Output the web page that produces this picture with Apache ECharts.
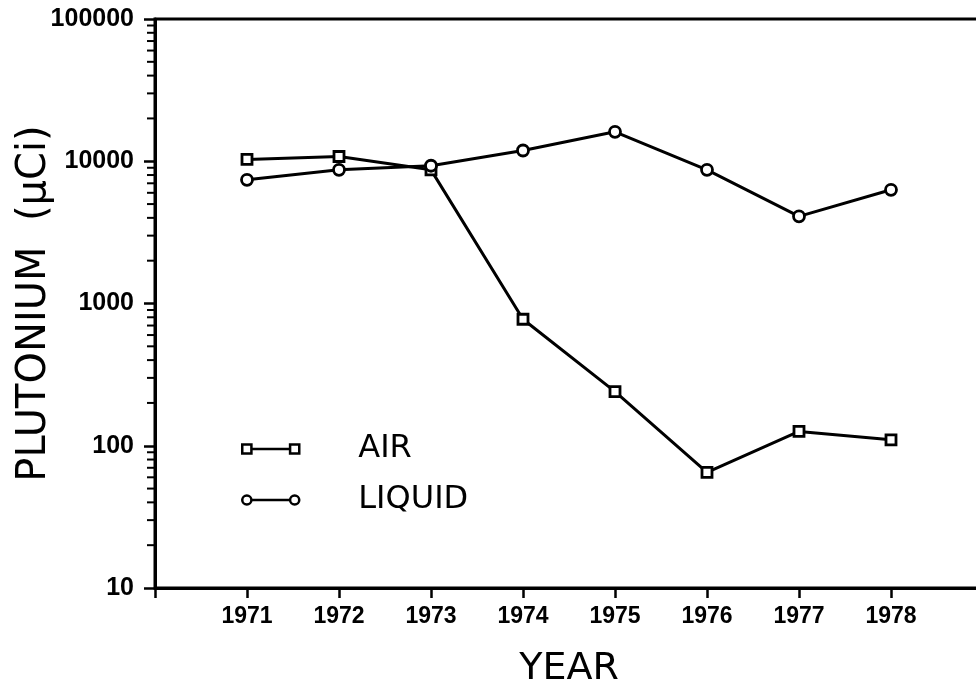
<!DOCTYPE html>
<html><head><meta charset="utf-8">
<script src="https://cdn.jsdelivr.net/npm/echarts@6/dist/echarts.min.js"></script>
<style>html,body{margin:0;padding:0;background:#fff}#c{width:976px;height:687px}</style>
</head><body><div id="c"></div>
<script>
const years = [1971, 1972, 1973, 1974, 1975, 1976, 1977, 1978];
const airValues = [10300, 10800, 8700, 775, 240, 65, 126, 110];
const liquidValues = [7400, 8700, 9300, 11900, 16100, 8700, 4100, 6300];
const yTickLabels = [10, 100, 1000, 10000, 100000];
const minorTickValues = [];
for (const d of [10, 100, 1000, 10000]) for (let k = 2; k <= 9; k++) minorTickValues.push(d * k);

const chart = echarts.init(document.getElementById('c'), null, {renderer: 'canvas'});
const black = '#000';
const axisFont = 'Liberation Sans';
const titleFont = 'DejaVu Sans';

chart.setOption({
  backgroundColor: '#fff',
  animation: false,
  grid: {left: 155, width: 828, top: 19, height: 569, containLabel: false, outerBoundsMode: 'none', show: true, borderColor: black, borderWidth: 3, backgroundColor: 'transparent'},
  legend: {
    orient: 'vertical', left: 241, top: 433, padding: 0, itemGap: 19,
    itemWidth: 57, itemHeight: 10,
    data: [
      {name: 'AIR', icon: 'path://M0,0 L9,0 L9,9 L0,9 Z M9,4.5 L47,4.5 M47,0 L56,0 L56,9 L47,9 Z'},
      {name: 'LIQUID', icon: 'path://M0,4.5 A4.5,4.5 0 1,1 9,4.5 A4.5,4.5 0 1,1 0,4.5 Z M9,4.5 L47,4.5 M47,4.5 A4.5,4.5 0 1,1 56,4.5 A4.5,4.5 0 1,1 47,4.5 Z'}
    ],
    itemStyle: {color: 'rgba(0,0,0,0)', borderColor: black, borderWidth: 2.5},
    textStyle: {fontFamily: titleFont, fontSize: 32, color: black, lineHeight: 32, padding: [0, 0, 0, 54]}
  },
  xAxis: {
    type: 'value', min: 1970, max: 1979, interval: 1,
    name: 'YEAR', nameLocation: 'middle', nameGap: 62, nameMoveOverlap: false,
    nameTextStyle: {fontFamily: titleFont, fontSize: 38, color: black},
    axisLine: {show: true, lineStyle: {color: black, width: 3}},
    axisTick: {show: true, length: 10, lineStyle: {color: black, width: 2.5}},
    axisLabel: {
      color: black, fontFamily: axisFont, fontWeight: 'bold', fontSize: 23, margin: 17,
      formatter: v => (years.indexOf(v) >= 0 ? String(v) : '')
    },
    splitLine: {show: false}
  },
  yAxis: {
    type: 'log', logBase: 10, min: yTickLabels[0], max: yTickLabels[yTickLabels.length - 1],
    name: 'PLUTONIUM  (μCi)', nameLocation: 'middle', nameGap: 100, nameMoveOverlap: false,
    nameTextStyle: {fontFamily: titleFont, fontSize: 40, color: black},
    axisLine: {show: true, lineStyle: {color: black, width: 3}},
    axisTick: {show: true, length: 11, lineStyle: {color: black, width: 2.5}},
    axisLabel: {
      color: black, fontFamily: axisFont, fontWeight: 'bold', fontSize: 25, margin: 21,
      formatter: v => String(Math.round(v))
    },
    splitLine: {show: false}
  },
  series: [
    {
      name: 'AIR', type: 'line', data: years.map((y, i) => [y, airValues[i]]),
      symbol: 'rect', symbolSize: 10,
      lineStyle: {color: black, width: 3},
      itemStyle: {color: '#fff', borderColor: black, borderWidth: 2.8},
      z: 3
    },
    {
      name: 'LIQUID', type: 'line', data: years.map((y, i) => [y, liquidValues[i]]),
      symbol: 'circle', symbolSize: 11,
      lineStyle: {color: black, width: 3},
      itemStyle: {color: '#fff', borderColor: black, borderWidth: 2.8},
      z: 3
    },
    {
      name: 'minorTicks', type: 'custom', silent: true, clip: false,
      data: minorTickValues.map(v => [1970, v]),
      renderItem: (params, api) => {
        const p = api.coord([api.value(0), api.value(1)]);
        return {type: 'line', shape: {x1: p[0] - 8, y1: p[1], x2: p[0], y2: p[1]}, style: {stroke: black, lineWidth: 2}};
      },
      z: 5
    }
  ]
});
</script>
</body></html>
